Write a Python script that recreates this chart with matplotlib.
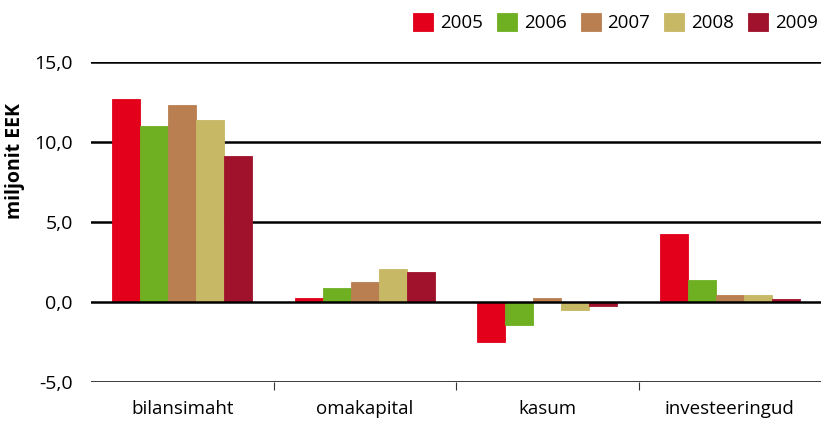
import matplotlib
matplotlib.use("Agg")
import matplotlib.pyplot as plt
import numpy as np

categories = ["bilansimaht", "omakapital", "kasum", "investeeringud"]
years = ["2005", "2006", "2007", "2008", "2009"]
values = {
    "2005": [12.7, 0.28, -2.53, 4.28],
    "2006": [11.0, 0.86, -1.45, 1.39],
    "2007": [12.3, 1.26, 0.28, 0.41],
    "2008": [11.38, 2.09, -0.53, 0.41],
    "2009": [9.1, 1.89, -0.24, 0.16],
}
colors = ["#E2001A", "#6FB023", "#B97F50", "#C6B864", "#A0122B"]
yticks = [-5, 0, 5, 10, 15]
ytick_labels = ["-5,0", "0,0", "5,0", "10,0", "15,0"]

plt.rcParams["font.family"] = ["Open Sans", "DejaVu Sans"]

fig = plt.figure(figsize=(8.23, 4.24), dpi=100)
ax = fig.add_axes([91/823, 1-382/424, (821-91)/823, 320/424])

x = np.arange(len(categories))
w = 0.1534
for j, (yr, c) in enumerate(zip(years, colors)):
    ax.bar(x + (j-2)*w, values[yr], width=w, color=c, label=yr, zorder=2,
           edgecolor=c, linewidth=0.6)

for yv in yticks:
    ax.axhline(yv, color="black", lw=1.8, zorder=3 if yv == 0 else 1)

ax.set_xlim(-0.5, 3.5)
ax.set_ylim(-5, 15)
ax.set_yticks(yticks)
ax.set_yticklabels(ytick_labels)
ax.set_xticks(x)
ax.set_xticklabels(categories)
ax.set_xticks([0.5, 1.5, 2.5], minor=True)
ax.tick_params(axis="y", length=0, pad=13, labelsize=14)
ax.tick_params(axis="x", which="major", length=0, pad=13, labelsize=13.5)
ax.tick_params(axis="x", which="minor", length=6, width=0.8, color="#333333")
for s in ax.spines.values():
    s.set_visible(False)

fig.text(15/823, 1-161/424, "miljonit EEK", rotation=90, ha="center", va="center",
         fontsize=14, fontweight="bold")

fig.legend(loc="upper right", bbox_to_anchor=(1.0 + 8/823, 1.0), ncol=5, frameon=False,
           fontsize=13.5, handlelength=1.07, handleheight=1.07, handletextpad=0.37,
           columnspacing=0.74, borderaxespad=0.3)

fig.savefig("out.png", dpi=100)
